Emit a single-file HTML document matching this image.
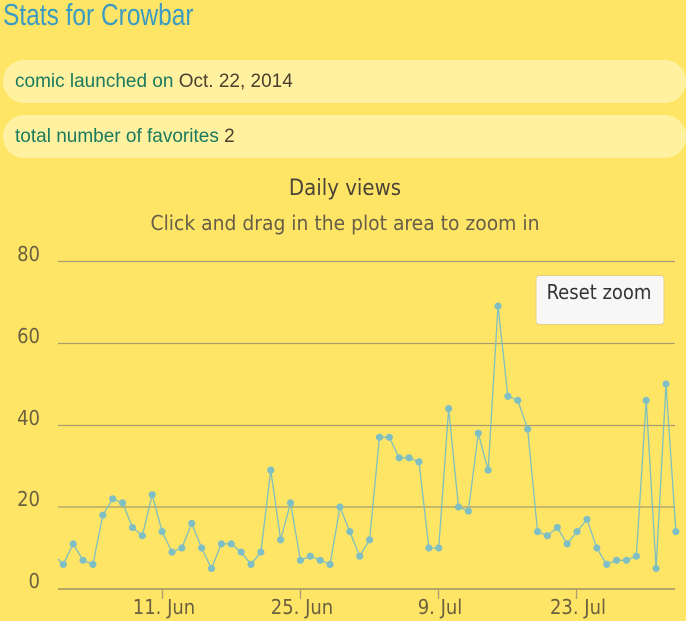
<!DOCTYPE html>
<html><head><meta charset="utf-8"><style>
body{margin:0;width:686px;height:621px;background:#ffe566;overflow:hidden;font-family:"Liberation Sans",sans-serif;position:relative}
h1{position:absolute;left:3px;top:-3px;margin:0;font-weight:normal;font-size:31px;color:#3d9ac0;transform:scaleX(0.79);transform-origin:left top}
.pill{position:absolute;left:3px;width:683px;height:43px;background:#fff1a0;border-radius:21px;font-size:19px;color:#1a7a5e;line-height:43px;box-sizing:border-box;padding-left:12px}
.pill span{color:#4a4030}
svg{position:absolute;left:0;top:0}
</style></head><body>
<h1>Stats for Crowbar</h1>
<div class="pill" style="top:60px">comic launched on <span>Oct. 22, 2014</span></div>
<div class="pill" style="top:115px">total number of favorites <span>2</span></div>
<svg width="686" height="621" id="s" font-family="DejaVu Sans Condensed, Liberation Sans, sans-serif">
<text x="345" y="195" text-anchor="middle" font-size="22" fill="#4a4438">Daily views</text>
<text x="345" y="230" text-anchor="middle" font-size="20" fill="#665e48" textLength="389" lengthAdjust="spacingAndGlyphs">Click and drag in the plot area to zoom in</text>
<g stroke="#a89d70" stroke-width="1.3">
<line x1="58" x2="675" y1="261.5" y2="261.5"/><line x1="58" x2="675" y1="343.5" y2="343.5"/>
<line x1="58" x2="675" y1="425.5" y2="425.5"/><line x1="58" x2="675" y1="507" y2="507"/>
<line x1="58" x2="675" y1="589" y2="589" stroke="#8a8060"/>
<line x1="162.5" x2="162.5" y1="589" y2="599"/><line x1="300.5" x2="300.5" y1="589" y2="599"/>
<line x1="438.5" x2="438.5" y1="589" y2="599"/><line x1="576.5" x2="576.5" y1="589" y2="599"/>
</g>
<g font-size="20" fill="#6b6040" text-anchor="end">
<text x="40" y="261">80</text><text x="40" y="343">60</text><text x="40" y="425">40</text><text x="40" y="506">20</text><text x="40" y="588">0</text>
</g>
<g font-size="20" fill="#6b6040" text-anchor="middle">
<text x="164" y="614">11. Jun</text><text x="302" y="614">25. Jun</text><text x="440" y="614">9. Jul</text><text x="578" y="614">23. Jul</text>
</g>
<rect x="536" y="275.5" width="128" height="49" rx="3" fill="#f7f7f7" stroke="#e0d080"/>
<text x="599" y="299" text-anchor="middle" font-size="20" fill="#333">Reset zoom</text>
</svg>
<script>
var v=[6,11,7,6,18,22,21,15,13,23,14,9,10,16,10,5,11,11,9,6,9,29,12,21,7,8,7,6,20,14,8,12,37,37,32,32,31,10,10,44,20,19,38,29,69,47,46,39,14,13,15,11,14,17,10,6,7,7,8,46,5,50,14];
var s=document.getElementById('s'),ns='http://www.w3.org/2000/svg';
function X(i){return 63.3+i*9.88}function Y(d){return 589-d*4.1}
var p=[[58,559]];for(var i=0;i<v.length;i++)p.push([X(i),Y(v[i])]);
var pl=document.createElementNS(ns,'polyline');pl.setAttribute('points',p.map(function(a){return a.join(',')}).join(' '));
pl.setAttribute('fill','none');pl.setAttribute('stroke','#7fbfbf');pl.setAttribute('stroke-width','1.3');s.appendChild(pl);
for(i=0;i<v.length;i++){var c=document.createElementNS(ns,'circle');c.setAttribute('cx',X(i));c.setAttribute('cy',Y(v[i]));c.setAttribute('r','3.6');c.setAttribute('fill','#7fbfc4');s.appendChild(c);}
</script>
</body></html>
